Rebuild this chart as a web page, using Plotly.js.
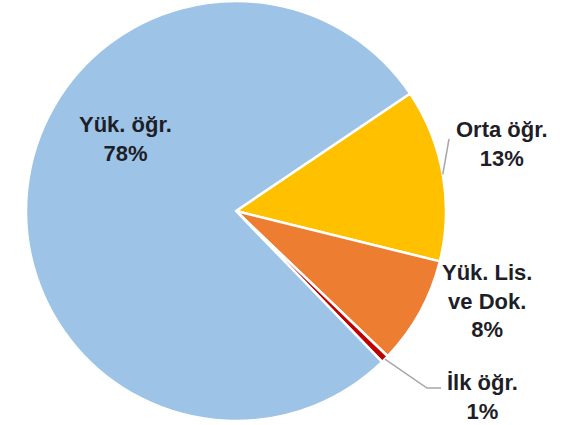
<!DOCTYPE html>
<html>
<head>
<meta charset="utf-8">
<script src="https://cdn.plot.ly/plotly-3.0.1.min.js"></script>
<style>html,body{margin:0;padding:0;background:#fff;}#chart{width:568px;height:425px;}</style>
</head>
<body>
<div id="chart"></div>
<script>
var categories = ["Orta öğr.", "Yük. Lis.<br>ve Dok.", "İlk öğr.", "Yük. öğr."];
var shares = [13.3, 8.3, 0.6, 77.8];
var sliceColors = ["#FFC000", "#ED7D31", "#C00000", "#9DC3E6"];

var W = 568, H = 425;
var startAngle = 56;            // degrees clockwise from 12 o'clock
var pieCx = 236, pieCy = 211, pieR = 210;   // pixels

// label placement (pixel centres) and optional leader-line bends
var labelPos = [[502, 143.5], [487, 301], [482.5, 397], [125, 139]];
var leaderEnds = [[[449, 139]], null, [[427, 388], [441, 388]], null];

function px(x) { return x / W; }
function py(y) { return 1 - y / H; }

var total = shares.reduce(function (a, b) { return a + b; }, 0);

var trace = {
  type: "pie",
  labels: categories,
  values: shares,
  sort: false,
  direction: "clockwise",
  rotation: startAngle,
  marker: {colors: sliceColors, line: {color: "#ffffff", width: 2.5}},
  textinfo: "none",
  hoverinfo: "none",
  showlegend: false,
  domain: {x: [px(pieCx - pieR), px(pieCx + pieR)], y: [py(pieCy + pieR), py(pieCy - pieR)]}
};

var annotations = [];
var shapes = [];
var cum = 0;
for (var i = 0; i < categories.length; i++) {
  var pct = Math.round(shares[i] / total * 100);
  annotations.push({
    xref: "paper", yref: "paper",
    x: px(labelPos[i][0]), y: py(labelPos[i][1]),
    xanchor: "center", yanchor: "middle",
    showarrow: false, align: "center", borderpad: 0,
    text: "<b>" + categories[i] + "<br>" + pct + "%</b>",
    font: {family: "Liberation Sans, Arial, sans-serif", size: 22, color: "#1e1e28"}
  });
  var mid = (startAngle + (cum + shares[i] / 2) / total * 360) * Math.PI / 180;
  cum += shares[i];
  if (leaderEnds[i]) {
    var tx = pieCx + pieR * Math.sin(mid), ty = pieCy - pieR * Math.cos(mid);
    var path = "M " + px(tx) + "," + py(ty);
    leaderEnds[i].forEach(function (p) { path += " L " + px(p[0]) + "," + py(p[1]); });
    shapes.push({type: "path", xref: "paper", yref: "paper", path: path,
      line: {color: "#a6a6a6", width: 1.5}});
  }
}

var layout = {
  width: W, height: H,
  margin: {l: 0, r: 0, t: 0, b: 0},
  paper_bgcolor: "#ffffff",
  showlegend: false,
  annotations: annotations,
  shapes: shapes
};

Plotly.newPlot("chart", [trace], layout, {staticPlot: true});
</script>
</body>
</html>
